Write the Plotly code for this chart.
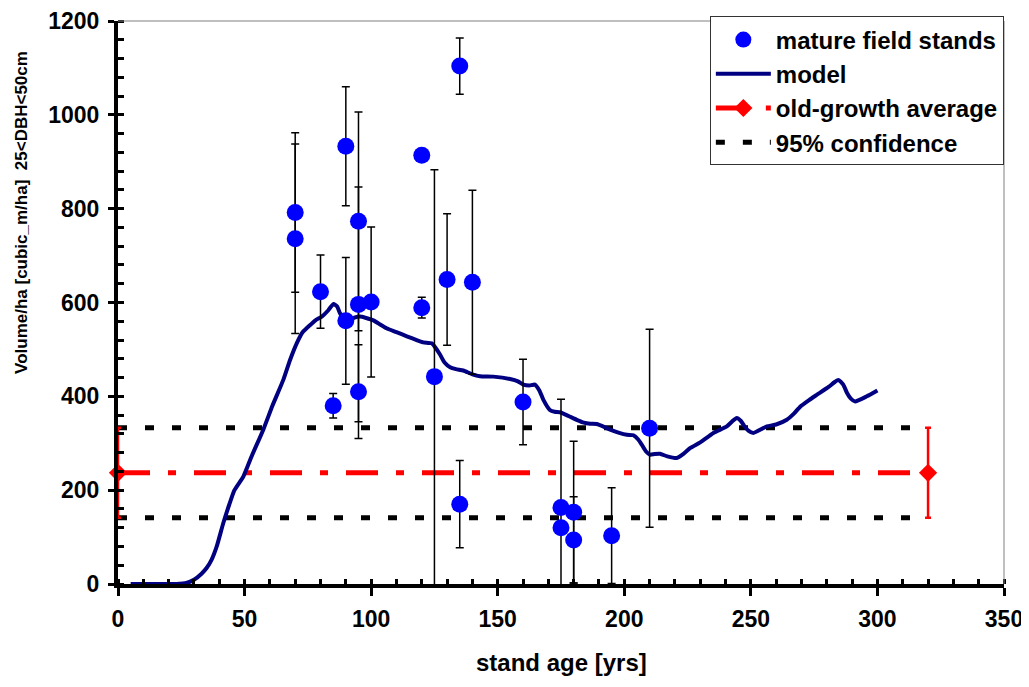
import plotly.graph_objects as go

# ---- data ----
stand_age = [70, 70, 80, 85, 90, 90, 95, 95, 95, 100, 120, 120, 125, 130, 135, 135, 140, 160, 175, 175, 180, 180, 195, 210]
stand_vol = [792, 736, 623, 380, 933, 561, 773, 596, 410, 601, 914, 589, 442, 649, 1104, 170, 643, 388, 163, 120, 153, 94, 103, 332]
err_plus = [170, 202, 78, 26, 127, 135, 233, 250, 100, 160, 0, 22, 441, 140, 60, 93, 196, 91, 231, 0, 151, 92, 102, 211]
err_minus = [170, 202, 78, 26, 127, 135, 233, 250, 100, 160, 0, 22, 457, 140, 60, 93, 196, 91, 178, 0, 151, 92, 102, 211]

model_age = [5, 23, 27, 30, 33, 35, 37, 39, 41.6, 44, 46, 49.5, 53, 57.4, 61, 65.3, 68, 70.6, 73, 75.9, 78, 80.5, 83, 85.1,
             86.5, 87.7, 89, 90.4, 93, 95.6, 98, 100.9, 103, 106.1, 110, 114.1, 118, 120.6, 123.9, 125.5, 127.2, 129, 131.2,
             133.5, 136.4, 140, 143, 148.3, 154.9, 158, 160.1, 162.5, 164.7, 166.5, 168, 170.6, 172.5, 174.6, 178, 181.2,
             184, 186.5, 189.1, 192, 194.4, 198, 201, 203.6, 205.5, 206.9, 208.5, 210.2, 212, 214.1, 217, 220.7, 223.5,
             226.1, 230, 235.2, 240.5, 242.5, 244.4, 246, 247.5, 249, 251, 256.3, 260, 264.2, 267, 269.5, 273, 276, 280.7,
             283, 284.6, 286.5, 288, 289.5, 291.2, 295.8, 300]
model_vol = [0, 0, 2, 9, 22, 34, 52, 80, 130, 170, 200, 229, 275, 329, 380, 435, 478, 513, 537, 552, 562, 570, 583, 597,
             592, 577, 566, 562, 567, 570, 567, 562, 555, 545, 537, 528, 520, 515, 513, 503, 489, 472, 462,
             458, 455, 447, 443, 442, 437, 432, 425, 423, 425, 412, 393, 371, 367, 366, 358, 350,
             344, 341.6, 341, 335, 329, 322, 318, 317, 308, 297, 283, 275.5, 277, 277.6, 272, 268.5, 278,
             290, 302, 322, 336, 346, 354, 348, 336, 327, 322, 336, 340, 350, 363, 378, 392, 403, 420,
             430, 435, 425, 407, 395, 389, 400, 412.5]

og_age = [0, 320]
og_avg = [237, 237]
og_err = [96, 96]
conf_age = [0, 320, None, 0, 320]
conf_vol = [333, 333, None, 141, 141]

x_ticks = [0, 50, 100, 150, 200, 250, 300, 350]
y_ticks = [0, 200, 400, 600, 800, 1000, 1200]

FONT = "Liberation Sans, Arial, sans-serif"

fig = go.Figure()

fig.add_trace(go.Scatter(
    x=conf_age, y=conf_vol, mode="lines", name="95% confidence",
    line=dict(color="black", width=5, dash="9px,18px"), legendrank=4, cliponaxis=False))

fig.add_trace(go.Scatter(
    x=og_age, y=og_avg, mode="lines+markers", name="old-growth average",
    line=dict(color="#FF0000", width=5, dash="32px,18px,8px,18px"),
    marker=dict(symbol="diamond", size=14, color="#FF0000"),
    error_y=dict(type="data", array=og_err, color="#FF0000", thickness=2.5, width=3),
    legendrank=3, cliponaxis=False))

fig.add_trace(go.Scatter(
    x=model_age, y=model_vol, mode="lines", name="model",
    line=dict(color="#000080", width=4, shape="spline", smoothing=0.5),
    legendrank=2, cliponaxis=False))

fig.add_trace(go.Scatter(
    x=stand_age, y=stand_vol, mode="markers", name="mature field stands",
    marker=dict(color="#0000FF", size=17),
    error_y=dict(type="data", symmetric=False, array=err_plus, arrayminus=err_minus,
                 color="black", thickness=1.5, width=4),
    legendrank=1, cliponaxis=False))

# dummy trace for overlay axes (inner part of major ticks)
fig.add_trace(go.Scatter(x=[None], y=[None], xaxis="x2", yaxis="y2", showlegend=False, hoverinfo="skip"))

tickfont = dict(family=FONT, size=23, color="black", weight="bold")

fig.update_layout(
    width=1029, height=687,
    margin=dict(l=110, r=33, t=13, b=111, autoexpand=False),
    paper_bgcolor="white", plot_bgcolor="white",
    font=dict(family=FONT, color="black"),
    showlegend=True,
    legend=dict(x=0.668, y=1.008, xanchor="left", yanchor="top",
                bgcolor="white", bordercolor="#333333", borderwidth=1,
                font=dict(family=FONT, size=24, color="black", weight="bold"),
                itemwidth=55, tracegroupgap=0),
    xaxis=dict(range=[0, 350], tickvals=x_ticks, ticks="outside", ticklen=8, tickwidth=3, tickcolor="black",
               showline=True, linecolor="black", linewidth=4, showgrid=False, zeroline=False, automargin=False,
               minor=dict(dtick=10, ticks="inside", ticklen=5, tickwidth=3, tickcolor="black", showgrid=False),
               tickfont=tickfont, ticklabelstandoff=3),
    yaxis=dict(range=[0, 1200], tickvals=y_ticks, ticks="outside", ticklen=6, tickwidth=3, tickcolor="black",
               showline=True, linecolor="black", linewidth=4, showgrid=False, zeroline=False, automargin=False,
               minor=dict(dtick=40, ticks="inside", ticklen=6, tickwidth=3, tickcolor="black", showgrid=False),
               tickfont=tickfont, ticklabelstandoff=4),
    xaxis2=dict(overlaying="x", anchor="y2", side="bottom", range=[0, 350], tickvals=x_ticks, ticks="inside",
                ticklen=5, tickwidth=3, tickcolor="black", showticklabels=False, showline=False,
                showgrid=False, zeroline=False, automargin=False),
    yaxis2=dict(overlaying="y", anchor="x2", side="left", range=[0, 1200], tickvals=y_ticks, ticks="inside",
                ticklen=6, tickwidth=3, tickcolor="black", showticklabels=False, showline=False,
                showgrid=False, zeroline=False, automargin=False),
    shapes=[
        dict(type="line", xref="paper", yref="paper", x0=0, x1=1, y0=1, y1=1, line=dict(color="#808080", width=1)),
        dict(type="line", xref="paper", yref="paper", x0=1, x1=1, y0=0, y1=1, line=dict(color="#808080", width=1)),
    ],
    annotations=[
        dict(text="stand age [yrs]", xref="paper", yref="paper", x=0.5, y=-0.1397, xanchor="center",
             yanchor="middle", showarrow=False,
             font=dict(family=FONT, size=24, color="black", weight="bold")),
        dict(text="Volume/ha [cubic_m/ha]  25<DBH<50cm", xref="paper", yref="paper", x=-0.1089, y=0.66,
             xanchor="center", yanchor="middle", textangle=-90, showarrow=False,
             font=dict(family=FONT, size=17, color="black", weight="bold")),
    ],
)

fig.write_html("out.html")
